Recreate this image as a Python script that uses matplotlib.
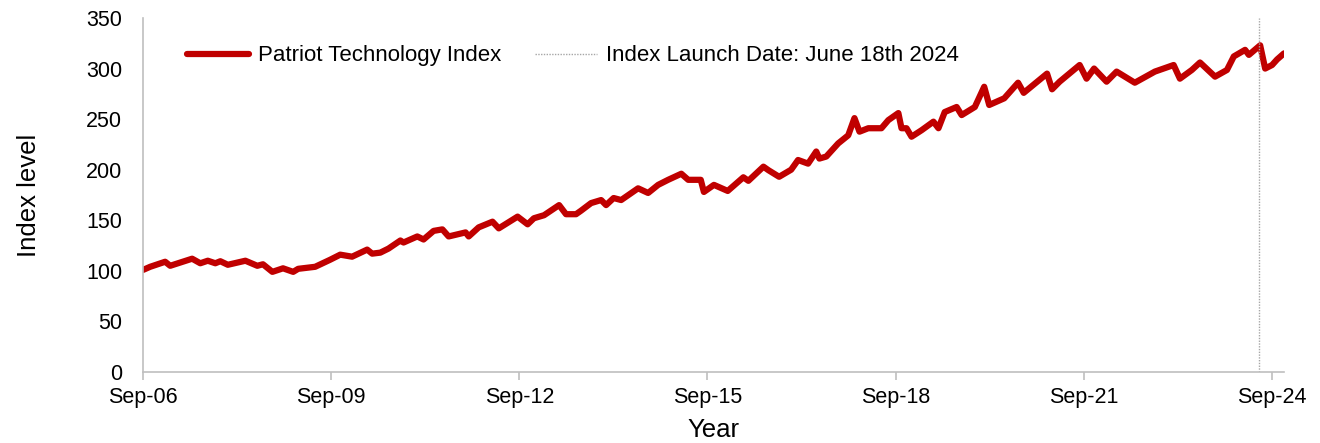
import matplotlib
matplotlib.use("Agg")
import matplotlib.pyplot as plt
import matplotlib.dates as mdates
import pandas as pd
import datetime as dt

plt.rcParams['font.family'] = ['Liberation Sans', 'DejaVu Sans']

# index level (decimal year, level)
years = [2006.67, 2006.78, 2007.02, 2007.10, 2007.45, 2007.58, 2007.70, 2007.82, 2007.90, 2008.02,
         2008.30, 2008.49, 2008.58, 2008.73, 2008.90, 2009.06, 2009.14, 2009.41, 2009.65, 2009.81,
         2010.00, 2010.24, 2010.32, 2010.45, 2010.58, 2010.77, 2010.82, 2011.04, 2011.14, 2011.30,
         2011.44, 2011.54, 2011.81, 2011.86, 2012.02, 2012.24, 2012.34, 2012.64, 2012.80, 2012.90,
         2013.06, 2013.30, 2013.41, 2013.57, 2013.65, 2013.81, 2013.97, 2014.05, 2014.17, 2014.29,
         2014.56, 2014.72, 2014.88, 2015.04, 2015.25, 2015.36, 2015.56, 2015.61, 2015.77, 2015.99,
         2016.24, 2016.32, 2016.56, 2016.64, 2016.81, 2017.00, 2017.11, 2017.27, 2017.40, 2017.45,
         2017.56, 2017.75, 2017.91, 2018.01, 2018.09, 2018.23, 2018.44, 2018.55, 2018.71, 2018.76,
         2018.84, 2018.92, 2019.08, 2019.27, 2019.35, 2019.45, 2019.64, 2019.72, 2019.93, 2020.08,
         2020.16, 2020.40, 2020.62, 2020.71, 2021.08, 2021.16, 2021.28, 2021.60, 2021.71, 2021.83,
         2022.03, 2022.19, 2022.48, 2022.80, 2023.10, 2023.20, 2023.39, 2023.52, 2023.76, 2023.95,
         2024.06, 2024.24, 2024.30, 2024.48, 2024.56, 2024.67, 2024.75, 2024.86]
level = [101, 104, 109, 105, 112, 107.5, 110, 107.5, 109.5, 106,
         110, 105, 106.5, 99, 102.5, 99, 102, 104, 111, 116,
         114, 121, 117, 118, 122, 130, 128, 134, 131, 139.5,
         141, 134, 138, 134, 143, 148.6, 142, 153.6, 146, 152,
         155, 165, 156, 156, 159.5, 167, 170, 165, 172, 170,
         181.6, 177, 185, 190, 196, 190, 190, 178, 185, 179,
         192.5, 189, 203, 199.5, 193, 200, 209.6, 206, 218, 211,
         213, 226, 234, 251, 237.6, 241, 241, 249, 256, 241,
         241, 232.6, 239, 247.5, 241, 257, 262, 254, 262, 282,
         264, 270.6, 286, 276, 295, 279.5, 287, 303.5, 290, 300,
         287, 297, 286, 297, 303.5, 290, 298.6, 306, 292, 298.6,
         312, 318.5, 313.5, 323, 300, 303.5, 309, 315]

tick_dates = ['2006-09-01', '2009-09-01', '2012-09-01', '2015-09-01',
              '2018-09-01', '2021-09-01', '2024-09-01']
launch_date = '2024-06-18'


def to_date(y):
    yr = int(y)
    start = dt.datetime(yr, 1, 1)
    return start + dt.timedelta(days=(y - yr) * 365.25)


dates = [to_date(y) for y in years]

fig = plt.figure(figsize=(13.2, 4.43), dpi=100)
ax = fig.add_axes([0.1083, 0.1603, 0.8644, 0.7991])

red = '#C00000'
ax.plot(dates, level, color=red, lw=4.5, solid_capstyle='round', solid_joinstyle='round',
        label='Patriot Technology Index')
ax.axvline(pd.Timestamp(launch_date), color='#A6A6A6', lw=1, ls=(0, (1, 1)),
           label='Index Launch Date: June 18th 2024')

ax.set_xlim(pd.Timestamp('2006-09-01'), pd.Timestamp('2024-11-10'))
ax.set_ylim(0, 350)
ax.set_yticks(range(0, 351, 50))
ax.set_xticks([pd.Timestamp(d) for d in tick_dates])
ax.xaxis.set_major_formatter(mdates.DateFormatter('%b-%y'))

for s in ['top', 'right']:
    ax.spines[s].set_visible(False)
for s in ['left', 'bottom']:
    ax.spines[s].set_color('#BFBFBF')
    ax.spines[s].set_linewidth(1.2)

ax.tick_params(axis='x', direction='out', length=6, color='#BFBFBF', width=1.2,
               labelsize=15.5, pad=5)
ax.tick_params(axis='y', length=0, labelsize=15.5, pad=15)

ax.set_xlabel('Year', fontsize=18.5, labelpad=7)
ax.set_ylabel('Index level', fontsize=18.5, labelpad=32)

ax.legend(loc='center left', bbox_to_anchor=(0.0386, 0.893), ncol=2, frameon=False,
          fontsize=16, borderpad=0, borderaxespad=0, handlelength=2.8,
          handletextpad=0.4, columnspacing=1.5)

fig.savefig('out.png', dpi=100)
